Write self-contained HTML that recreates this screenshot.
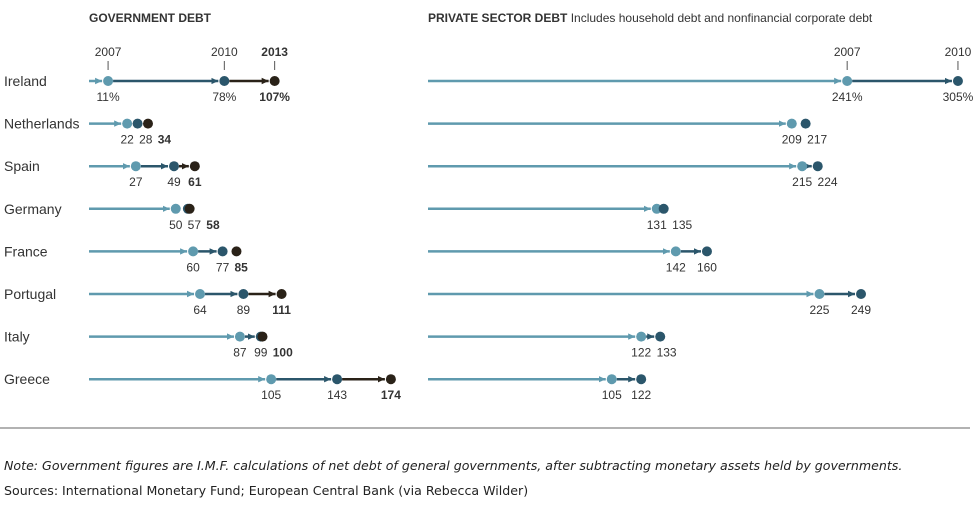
<!DOCTYPE html>
<html><head><meta charset="utf-8"><style>
body{margin:0;background:#fff;width:977px;height:511px;overflow:hidden;font-family:"Liberation Sans",sans-serif;}
svg text{font-family:"Liberation Sans",sans-serif;}
</style></head><body>
<svg width="977" height="511" id="c">
<defs>
<marker id="aL" markerUnits="userSpaceOnUse" markerWidth="8" markerHeight="8" refX="7" refY="4" orient="auto"><path d="M0,0.8 L7,4 L0,7.2z" fill="#5f9aae"/></marker>
<marker id="aM" markerUnits="userSpaceOnUse" markerWidth="8" markerHeight="8" refX="7" refY="4" orient="auto"><path d="M0,0.8 L7,4 L0,7.2z" fill="#2b566b"/></marker>
<marker id="aD" markerUnits="userSpaceOnUse" markerWidth="8" markerHeight="8" refX="7" refY="4" orient="auto"><path d="M0,0.8 L7,4 L0,7.2z" fill="#2a2218"/></marker>
</defs>
<text x="89" y="22" font-size="12" font-weight="bold" fill="#333">GOVERNMENT DEBT</text>
<text x="428" y="22" font-size="12" fill="#333"><tspan font-weight="bold">PRIVATE SECTOR DEBT</tspan> Includes household debt and nonfinancial corporate debt</text>
<line x1="0" y1="428" x2="970" y2="428" stroke="#999" stroke-width="1.5"/>
<text x="4" y="470" font-size="12.6" font-style="italic" fill="#222" style="font-family:'DejaVu Sans',sans-serif">Note: Government figures are I.M.F. calculations of net debt of general governments, after subtracting monetary assets held by governments.</text>
<text x="4" y="495" font-size="12.6" fill="#222" style="font-family:'DejaVu Sans',sans-serif">Sources: International Monetary Fund; European Central Bank (via Rebecca Wilder)</text>
<g id="g"></g>
</svg>
<script>
const countries=["Ireland","Netherlands","Spain","Germany","France","Portugal","Italy","Greece"];
const gov2007=[11,22,27,50,60,64,87,105];
const gov2010=[78,28,49,57,77,89,99,143];
const gov2013=[107,34,61,58,85,111,100,174];
const priv2007=[241,209,215,131,142,225,122,105];
const priv2010=[305,217,224,135,160,249,133,122];
const NS="http://www.w3.org/2000/svg";
const g=document.getElementById('g');
const gx=v=>89+v*1.735, px=v=>430+v*1.731;
const rowY=i=>81+i*42.6;
const cols=["#5f9aae","#2b566b","#2a2218"];
function el(t,a,txt){const e=document.createElementNS(NS,t);for(const k in a)e.setAttribute(k,a[k]);if(txt!==undefined)e.textContent=txt;g.appendChild(e);return e;}
function line(x1,x2,y,c,m,name){if(x2-x1<3)return;const e=el('line',{x1:x1,y1:y,x2:x2,y2:y,stroke:c,'stroke-width':2.5,'marker-end':'url(#'+m+')'});

}
function dot(x,y,c,name){const e=el('circle',{cx:x,cy:y,r:5,fill:c});

}
function labels(xs,texts,bolds,y,name){const pos=xs.slice();for(let k=1;k<pos.length;k++){const w=(texts[k-1].length+texts[k].length)*3.4+5;if(pos[k]-pos[k-1]<w)pos[k]=pos[k-1]+w;}
pos.forEach((p,k)=>{const e=el('text',{x:p,y:y,'font-size':12,'text-anchor':'middle',fill:'#333','font-weight':bolds[k]?'bold':'normal'},texts[k]);

});}
function tick(x,yr,bold,name){const t=el('text',{x:x,y:56,'font-size':12,'text-anchor':'middle',fill:'#333','font-weight':bold?'bold':'normal'},yr);


el('line',{x1:x,y1:61,x2:x,y2:70,stroke:'#555','stroke-width':1});}
countries.forEach((c,i)=>{
 const y=rowY(i);
 const t=el('text',{x:4,y:y+5,'font-size':14,fill:'#333'},c);
 
 
 const a=gx(gov2007[i]),b=gx(gov2010[i]),d=gx(gov2013[i]);
 line(89,a-6,y,cols[0],'aL','gov-line-2007');
 line(a+5,b-6,y,cols[1],'aM','gov-line-2010');
 line(b+5,d-6,y,cols[2],'aD','gov-line-2013');
 dot(a,y,cols[0],'gov-dot-2007');dot(b,y,cols[1],'gov-dot-2010');dot(d,y,cols[2],'gov-dot-2013');
 const suf=i===0?'%':'';
 labels([a,b,d],[gov2007[i]+suf,gov2010[i]+suf,gov2013[i]+suf],[0,0,1],y+20,'gov');
 const p=px(priv2007[i]),q=px(priv2010[i]);
 line(428,p-6,y,cols[0],'aL','priv-line-2007');
 line(p+5,q-6,y,cols[1],'aM','priv-line-2010');
 dot(p,y,cols[0],'priv-dot-2007');dot(q,y,cols[1],'priv-dot-2010');
 labels([p,q],[priv2007[i]+suf,priv2010[i]+suf],[0,0],y+20,'priv');
 if(i===0){tick(a,'2007',0,'gov-year-2007');tick(b,'2010',0,'gov-year-2010');tick(d,'2013',1,'gov-year-2013');tick(p,'2007',0,'priv-year-2007');tick(q,'2010',0,'priv-year-2010');}
});
</script>
</body></html>
